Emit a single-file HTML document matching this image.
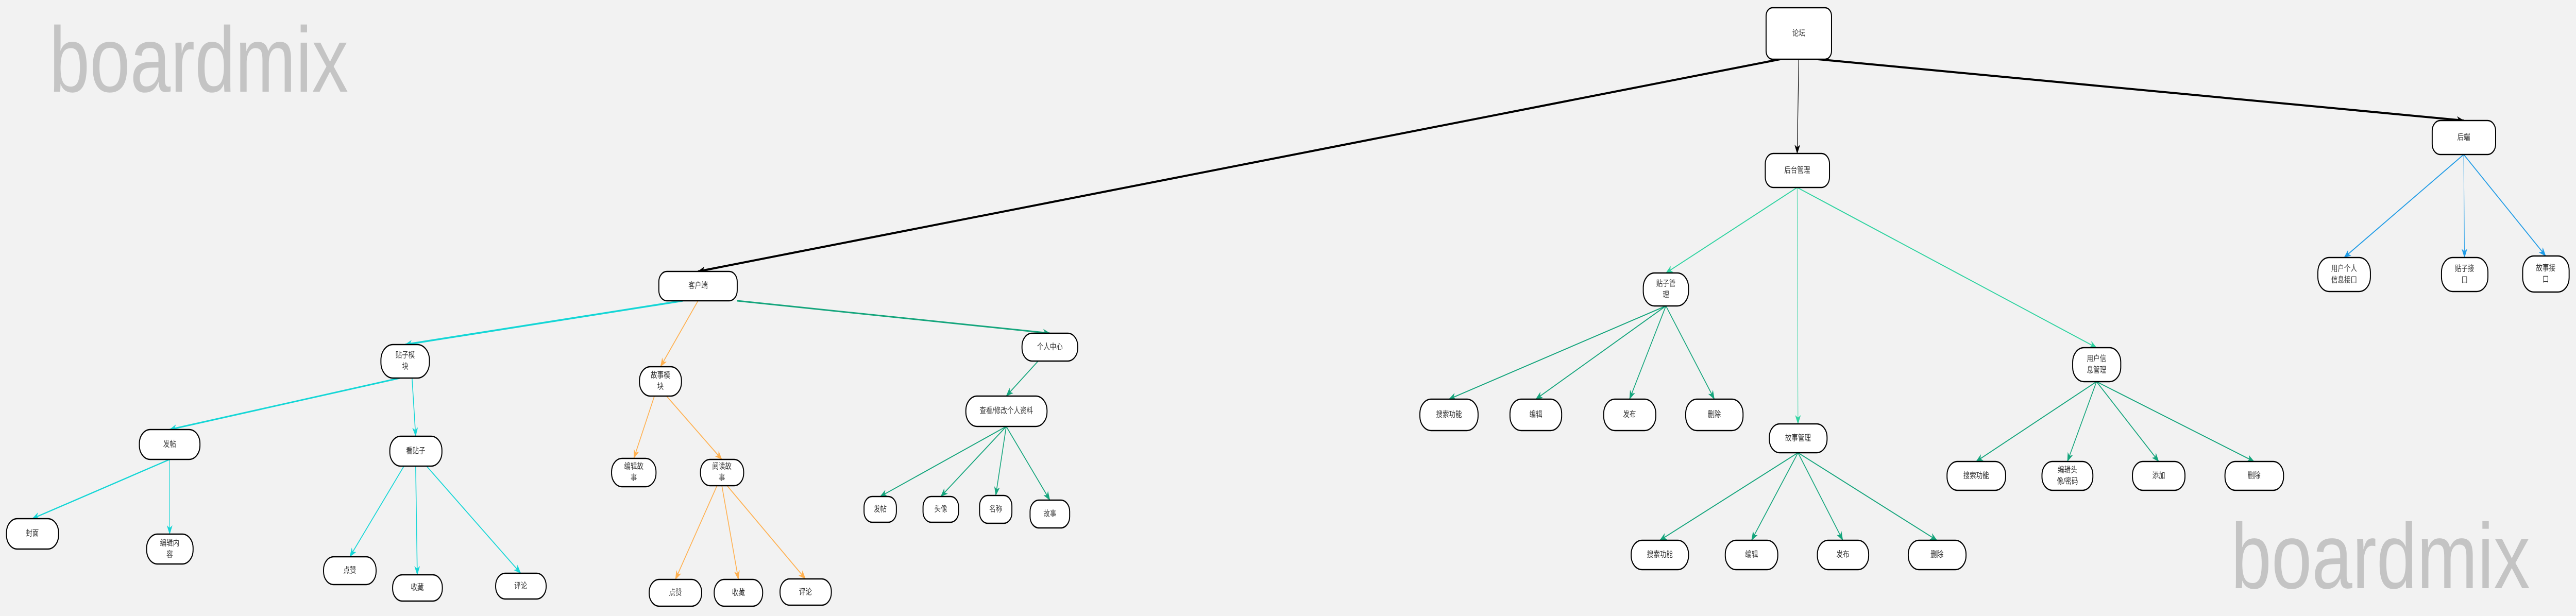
<!DOCTYPE html>
<html><head><meta charset="utf-8"><style>
html,body{margin:0;padding:0;width:100%;height:100%;overflow:hidden;background:#f2f2f2;}
svg{position:fixed;left:0;top:0;width:100vw;height:100vh;display:block;}
.n rect{fill:#fff;stroke:#000;stroke-width:2.5;}
.n text{font-family:"Liberation Sans","Noto Sans CJK SC",sans-serif;font-size:16px;fill:#333;text-anchor:middle;dominant-baseline:central;}
.wm{font-family:"Liberation Sans",sans-serif;font-size:180px;fill:#c4c4c4;}
</style></head><body>
<svg viewBox="0 0 6377 1196" preserveAspectRatio="none">
<rect x="0" y="0" width="6377" height="1196" fill="#f2f2f2"/>
<text class="wm" x="122" y="178">boardmix</text>
<text class="wm" x="5523" y="1142">boardmix</text>
<defs>
<marker id="mk" markerUnits="userSpaceOnUse" markerWidth="18" markerHeight="14" refX="17" refY="7" orient="auto"><path d="M0,0 L18,7 L0,14 L5,7 z" fill="#000"/></marker>
<marker id="mc" markerUnits="userSpaceOnUse" markerWidth="18" markerHeight="14" refX="17" refY="7" orient="auto"><path d="M0,0 L18,7 L0,14 L5,7 z" fill="#14d6d6"/></marker>
<marker id="mo" markerUnits="userSpaceOnUse" markerWidth="18" markerHeight="14" refX="17" refY="7" orient="auto"><path d="M0,0 L18,7 L0,14 L5,7 z" fill="#ffb04f"/></marker>
<marker id="mg" markerUnits="userSpaceOnUse" markerWidth="18" markerHeight="14" refX="17" refY="7" orient="auto"><path d="M0,0 L18,7 L0,14 L5,7 z" fill="#14a57c"/></marker>
<marker id="ml" markerUnits="userSpaceOnUse" markerWidth="18" markerHeight="14" refX="17" refY="7" orient="auto"><path d="M0,0 L18,7 L0,14 L5,7 z" fill="#2ed3a0"/></marker>
<marker id="mb" markerUnits="userSpaceOnUse" markerWidth="18" markerHeight="14" refX="17" refY="7" orient="auto"><path d="M0,0 L18,7 L0,14 L5,7 z" fill="#1e9be6"/></marker>
</defs>
<g fill="none">
<line x1="4407" y1="115" x2="1728" y2="527" stroke="#000" stroke-width="4" marker-end="url(#mk)"/>
<line x1="4453" y1="115" x2="4449" y2="298" stroke="#000" stroke-width="1.5" marker-end="url(#mk)"/>
<line x1="4500" y1="115" x2="6099" y2="234" stroke="#000" stroke-width="4" marker-end="url(#mk)"/>
<g stroke="#2ed3a0" stroke-width="2">
<line x1="4449" y1="364" x2="4124" y2="530" marker-end="url(#ml)"/>
<line x1="4449" y1="364" x2="4451" y2="823" stroke-width="1.2" marker-end="url(#ml)"/>
<line x1="4449" y1="364" x2="5190" y2="675" marker-end="url(#ml)"/>
</g>
<g stroke="#1e9be6" stroke-width="2">
<line x1="6099" y1="300" x2="5803" y2="500" marker-end="url(#mb)"/>
<line x1="6099" y1="300" x2="6101" y2="500" stroke-width="1.2" marker-end="url(#mb)"/>
<line x1="6099" y1="300" x2="6302" y2="497" marker-end="url(#mb)"/>
</g>
<g stroke="#14a57c" stroke-width="2">
<line x1="4124" y1="594" x2="3587" y2="775" marker-end="url(#mg)"/>
<line x1="4124" y1="594" x2="3802" y2="775" marker-end="url(#mg)"/>
<line x1="4124" y1="594" x2="4034" y2="775" marker-end="url(#mg)"/>
<line x1="4124" y1="594" x2="4244" y2="775" marker-end="url(#mg)"/>
<line x1="4451" y1="879" x2="4109" y2="1049" marker-end="url(#mg)"/>
<line x1="4451" y1="879" x2="4336" y2="1049" marker-end="url(#mg)"/>
<line x1="4451" y1="879" x2="4562" y2="1049" marker-end="url(#mg)"/>
<line x1="4451" y1="879" x2="4795" y2="1049" marker-end="url(#mg)"/>
<line x1="5190" y1="741" x2="4892" y2="896" marker-end="url(#mg)"/>
<line x1="5190" y1="741" x2="5118" y2="896" marker-end="url(#mg)"/>
<line x1="5190" y1="741" x2="5344" y2="896" marker-end="url(#mg)"/>
<line x1="5190" y1="741" x2="5580" y2="896" marker-end="url(#mg)"/>
<line x1="1825" y1="584" x2="2599" y2="647" stroke-width="3" marker-end="url(#mg)"/>
<line x1="2570" y1="701" x2="2491" y2="769" marker-end="url(#mg)"/>
<line x1="2491" y1="828" x2="2179" y2="964" marker-end="url(#mg)"/>
<line x1="2491" y1="828" x2="2329" y2="964" marker-end="url(#mg)"/>
<line x1="2491" y1="828" x2="2465" y2="962" marker-end="url(#mg)"/>
<line x1="2491" y1="828" x2="2599" y2="971" marker-end="url(#mg)"/>
</g>
<g stroke="#14d6d6" stroke-width="2">
<line x1="1690" y1="584" x2="1003" y2="669" stroke-width="3.5" marker-end="url(#mc)"/>
<line x1="990" y1="734" x2="420" y2="834" stroke-width="3" marker-end="url(#mc)"/>
<line x1="1020" y1="734" x2="1029" y2="847" marker-end="url(#mc)"/>
<line x1="420" y1="892" x2="80" y2="1007" stroke-width="2.5" marker-end="url(#mc)"/>
<line x1="420" y1="892" x2="420" y2="1037" stroke-width="1.5" marker-end="url(#mc)"/>
<line x1="1000" y1="905" x2="866" y2="1081" marker-end="url(#mc)"/>
<line x1="1029" y1="905" x2="1033" y2="1116" marker-end="url(#mc)"/>
<line x1="1056" y1="905" x2="1289" y2="1113" marker-end="url(#mc)"/>
</g>
<g stroke="#ffb04f" stroke-width="2">
<line x1="1728" y1="584" x2="1635" y2="712" marker-end="url(#mo)"/>
<line x1="1620" y1="769" x2="1569" y2="890" marker-end="url(#mo)"/>
<line x1="1650" y1="769" x2="1787" y2="892" marker-end="url(#mo)"/>
<line x1="1775" y1="943" x2="1672" y2="1125" marker-end="url(#mo)"/>
<line x1="1787" y1="943" x2="1828" y2="1125" marker-end="url(#mo)"/>
<line x1="1800" y1="943" x2="1994" y2="1124" marker-end="url(#mo)"/>
</g>
</g>

<g class="n"><rect x="4372" y="15" width="162" height="100" rx="16"/><text x="4453" y="65">论坛</text></g>
<g class="n"><rect x="4370" y="298" width="159" height="66" rx="20"/><text x="4449" y="331">后台管理</text></g>
<g class="n"><rect x="6021" y="234" width="157" height="66" rx="20"/><text x="6099" y="267">后端</text></g>
<g class="n"><rect x="5738" y="500" width="130" height="66" rx="28"/><text x="5803" y="522">用户个人</text><text x="5803" y="544">信息接口</text></g>
<g class="n"><rect x="6044" y="500" width="115" height="66" rx="28"/><text x="6101" y="522">贴子接</text><text x="6101" y="544">口</text></g>
<g class="n"><rect x="6245" y="497" width="115" height="70" rx="28"/><text x="6302" y="521">故事接</text><text x="6302" y="543">口</text></g>
<g class="n"><rect x="4068" y="530" width="112" height="64" rx="28"/><text x="4124" y="551">贴子管</text><text x="4124" y="573">理</text></g>
<g class="n"><rect x="3515" y="775" width="144" height="61" rx="28"/><text x="3587" y="805">搜索功能</text></g>
<g class="n"><rect x="3738" y="775" width="128" height="61" rx="28"/><text x="3802" y="805">编辑</text></g>
<g class="n"><rect x="3970" y="775" width="129" height="61" rx="28"/><text x="4034" y="805">发布</text></g>
<g class="n"><rect x="4173" y="775" width="142" height="61" rx="28"/><text x="4244" y="805">删除</text></g>
<g class="n"><rect x="4380" y="823" width="143" height="56" rx="26"/><text x="4451" y="851">故事管理</text></g>
<g class="n"><rect x="4038" y="1049" width="142" height="57" rx="27"/><text x="4109" y="1077">搜索功能</text></g>
<g class="n"><rect x="4271" y="1049" width="130" height="57" rx="27"/><text x="4336" y="1077">编辑</text></g>
<g class="n"><rect x="4499" y="1049" width="127" height="57" rx="27"/><text x="4562" y="1077">发布</text></g>
<g class="n"><rect x="4724" y="1049" width="143" height="57" rx="27"/><text x="4795" y="1077">删除</text></g>
<g class="n"><rect x="5131" y="675" width="119" height="66" rx="28"/><text x="5190" y="697">用户信</text><text x="5190" y="719">息管理</text></g>
<g class="n"><rect x="4820" y="896" width="145" height="56" rx="26"/><text x="4892" y="924">搜索功能</text></g>
<g class="n"><rect x="5055" y="896" width="126" height="56" rx="26"/><text x="5118" y="913">编辑头</text><text x="5118" y="935">像/密码</text></g>
<g class="n"><rect x="5279" y="896" width="130" height="56" rx="26"/><text x="5344" y="924">添加</text></g>
<g class="n"><rect x="5508" y="896" width="145" height="56" rx="26"/><text x="5580" y="924">删除</text></g>

<g class="n"><rect x="1631" y="527" width="194" height="57" rx="20"/><text x="1728" y="555">客户端</text></g>
<g class="n"><rect x="943" y="669" width="120" height="65" rx="30"/><text x="1003" y="690">贴子模</text><text x="1003" y="712">块</text></g>
<g class="n"><rect x="1583" y="712" width="104" height="57" rx="27"/><text x="1635" y="729">故事模</text><text x="1635" y="751">块</text></g>
<g class="n"><rect x="345" y="834" width="150" height="58" rx="27"/><text x="420" y="863">发帖</text></g>
<g class="n"><rect x="965" y="847" width="129" height="58" rx="27"/><text x="1029" y="876">看贴子</text></g>
<g class="n"><rect x="16" y="1007" width="129" height="59" rx="27"/><text x="80" y="1036">封面</text></g>
<g class="n"><rect x="363" y="1037" width="115" height="58" rx="27"/><text x="420" y="1055">编辑内</text><text x="420" y="1077">容</text></g>
<g class="n"><rect x="801" y="1081" width="130" height="54" rx="25"/><text x="866" y="1108">点赞</text></g>
<g class="n"><rect x="972" y="1116" width="123" height="51" rx="24"/><text x="1033" y="1141">收藏</text></g>
<g class="n"><rect x="1227" y="1113" width="125" height="50" rx="24"/><text x="1289" y="1138">评论</text></g>
<g class="n"><rect x="1514" y="890" width="110" height="55" rx="26"/><text x="1569" y="906">编辑故</text><text x="1569" y="928">事</text></g>
<g class="n"><rect x="1734" y="892" width="107" height="51" rx="24"/><text x="1787" y="906">阅读故</text><text x="1787" y="928">事</text></g>
<g class="n"><rect x="1607" y="1125" width="130" height="52" rx="25"/><text x="1672" y="1151">点赞</text></g>
<g class="n"><rect x="1768" y="1125" width="120" height="52" rx="25"/><text x="1828" y="1151">收藏</text></g>
<g class="n"><rect x="1931" y="1124" width="127" height="51" rx="24"/><text x="1994" y="1150">评论</text></g>
<g class="n"><rect x="2530" y="647" width="138" height="54" rx="25"/><text x="2599" y="674">个人中心</text></g>
<g class="n"><rect x="2391" y="769" width="201" height="59" rx="28"/><text x="2491" y="798">查看/修改个人资料</text></g>
<g class="n"><rect x="2139" y="964" width="80" height="50" rx="20"/><text x="2179" y="989">发帖</text></g>
<g class="n"><rect x="2285" y="964" width="88" height="50" rx="20"/><text x="2329" y="989">头像</text></g>
<g class="n"><rect x="2425" y="962" width="80" height="54" rx="20"/><text x="2465" y="989">名称</text></g>
<g class="n"><rect x="2550" y="971" width="98" height="54" rx="22"/><text x="2599" y="998">故事</text></g>
</svg>
</body></html>
